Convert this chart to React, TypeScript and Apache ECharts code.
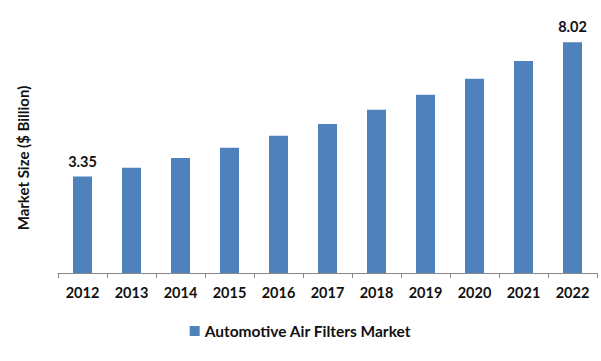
import React, { useEffect, useRef } from "react";
import * as echarts from "echarts";

const categories = ["2012", "2013", "2014", "2015", "2016", "2017", "2018", "2019", "2020", "2021", "2022"];
const values = [3.35, 3.66, 4.0, 4.35, 4.77, 5.18, 5.67, 6.19, 6.75, 7.37, 8.02];
const labeledYears = ["2012", "2022"];
const seriesName = "Automotive Air Filters Market";
const yAxisTitle = "Market Size ($ Billion)";

export default function App() {
  const ref = useRef<HTMLDivElement>(null);
  useEffect(() => {
    if (!ref.current) return;
    const chart = echarts.init(ref.current, null, { renderer: "svg" });
    const font = "Lato, 'Open Sans', sans-serif";
    chart.setOption({
      animation: false,
      backgroundColor: "#ffffff",
      grid: { left: 58, right: 4, top: 14, bottom: 88 },
      legend: {
        data: [seriesName],
        bottom: 17,
        left: "center",
        icon: "rect",
        itemWidth: 10,
        itemHeight: 10,
        itemGap: 4,
        textStyle: { fontFamily: font, fontWeight: "bold", fontSize: 15.5, color: "#111" },
      },
      graphic: [
        {
          type: "text",
          x: 23,
          y: 158,
          rotation: Math.PI / 2,
          style: {
            text: yAxisTitle,
            fontFamily: font,
            fontWeight: "bold",
            fontSize: 15,
            fill: "#111",
            textAlign: "center",
            textVerticalAlign: "middle",
          },
        },
      ],
      xAxis: {
        type: "category",
        data: categories,
        axisLine: { show: true, lineStyle: { color: "#888", width: 1 } },
        axisTick: { show: true, length: 5, lineStyle: { color: "#888" } },
        axisLabel: { fontFamily: font, fontWeight: "bold", fontSize: 14.5, color: "#111", margin: 12 },
      },
      yAxis: {
        type: "value",
        min: 0,
        max: 9,
        splitLine: { show: false },
        axisLine: { show: false },
        axisTick: { show: false },
        axisLabel: { show: false },
      },
      series: [
        {
          name: seriesName,
          type: "bar",
          barWidth: 19,
          itemStyle: { color: "#4F81BD" },
          data: values.map((v, i) => ({
            value: v,
            label: {
              show: labeledYears.includes(categories[i]),
              position: "top",
              distance: 8,
              fontFamily: font,
              fontWeight: "bold",
              fontSize: 14.5,
              color: "#111",
            },
          })),
        },
      ],
    });
    return () => chart.dispose();
  }, []);
  return <div ref={ref} style={{ width: 601, height: 361, position: "absolute", left: 0, top: 0 }} />;
}
